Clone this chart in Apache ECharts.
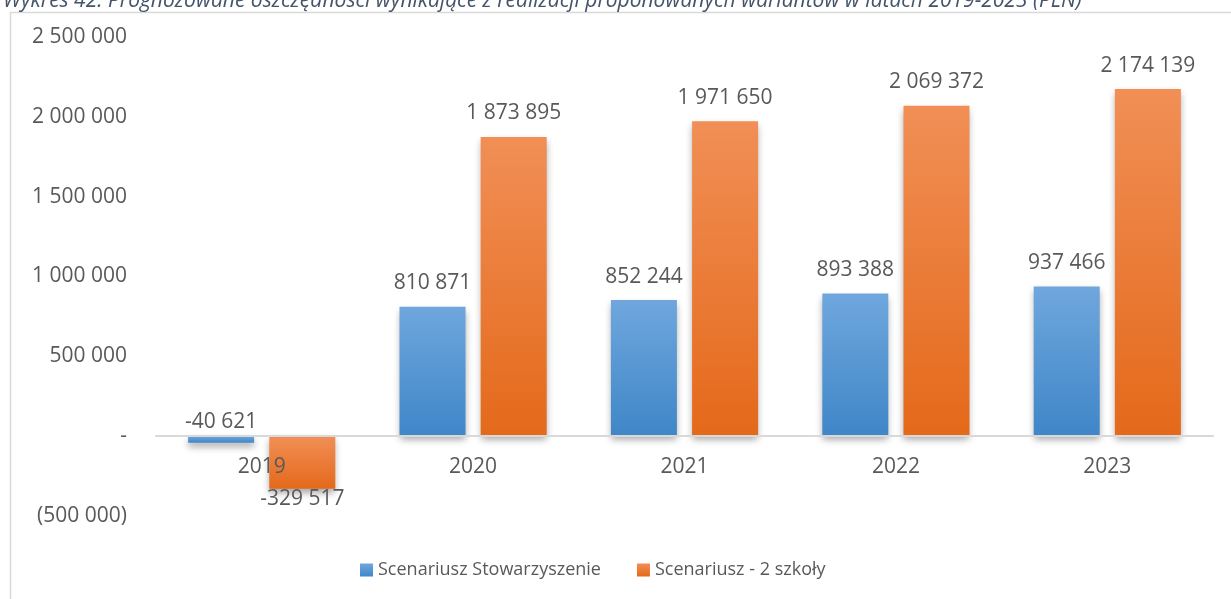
<!DOCTYPE html>
<html>
<head>
<meta charset="utf-8">
<style>
  html, body { margin: 0; padding: 0; background: #ffffff; }
  #chart { width: 1231px; height: 599px; }
</style>
<script src="https://cdn.jsdelivr.net/npm/echarts@6/dist/echarts.min.js"></script>
</head>
<body>
<div id="chart"></div>
<script>
// Forecast savings per year (PLN)
const years = ['2019', '2020', '2021', '2022', '2023'];
const seriesNames = ['Scenariusz Stowarzyszenie', 'Scenariusz - 2 szkoły'];
const stowarzyszenie = [-40621, 810871, 852244, 893388, 937466];
const dwieSzkoly = [-329517, 1873895, 1971650, 2069372, 2174139];
const yTicks = { min: -500000, max: 2500000, step: 500000 };
const titleText = 'Wykres 42. Prognozowane oszczędności wynikające z realizacji proponowanych wariantów w latach 2019-2023 (PLN)';

const FONT = 'Open Sans';
const TEXT = '#595959';

function groupDigits(n) {
  return String(Math.abs(n)).replace(/\B(?=(\d{3})+(?!\d))/g, ' ');
}
function axisLabel(v) {
  if (v === 0) return '-';
  return v < 0 ? '(' + groupDigits(v) + ')' : groupDigits(v);
}
function valueLabel(v) {
  return (v < 0 ? '-' : '') + groupDigits(v);
}

function gradient(top, bottom) {
  return new echarts.graphic.LinearGradient(0, 0, 0, 1, [
    { offset: 0, color: top },
    { offset: 1, color: bottom }
  ]);
}

// Negative bars keep their label beside the outer end
function buildData(values, negAbove) {
  return values.map(function (v) {
    if (v >= 0) return v;
    return {
      value: v,
      label: negAbove
        ? { position: 'top', distance: 4 }
        : { position: 'bottom', distance: 0 }
    };
  });
}

const barShadow = {
  shadowColor: 'rgba(0,0,0,0.35)',
  shadowBlur: 7,
  shadowOffsetX: 0,
  shadowOffsetY: 4
};

// Plot area geometry: value range -500k..2.5M over 6 steps, zero sits one step above the bottom
const GRID_TOP = 37, GRID_BOTTOM = 83, CHART_H = 599;
const plotH = CHART_H - GRID_TOP - GRID_BOTTOM;
const zeroShift = plotH * (0 - yTicks.min) / (yTicks.max - yTicks.min);

const chart = echarts.init(document.getElementById('chart'), null, { renderer: 'canvas' });

chart.setOption({
  animation: false,
  textStyle: { fontFamily: FONT },
  title: {
    text: titleText,
    left: -2,
    top: -14,
    textStyle: {
      fontFamily: FONT,
      fontStyle: 'italic',
      fontWeight: 'normal',
      fontSize: 21,
      color: '#44546a'
    }
  },
  graphic: [{
    type: 'rect',
    left: 8,
    top: 10,
    shape: { width: 1260, height: 620 },
    style: { fill: 'none', stroke: '#d9d9d9', lineWidth: 1.5 },
    silent: true,
    z: -1
  }],
  legend: {
    data: seriesNames,
    bottom: 15,
    left: 355,
    icon: 'rect',
    itemWidth: 13,
    itemHeight: 13,
    itemGap: 36,
    itemStyle: { shadowBlur: 0, shadowOffsetY: 0, shadowColor: 'transparent' },
    textStyle: { color: TEXT, fontSize: 18, fontFamily: FONT }
  },
  grid: { left: 156, right: 18, top: GRID_TOP, bottom: GRID_BOTTOM },
  xAxis: {
    type: 'category',
    data: years,
    offset: -zeroShift,
    z: 5,
    axisLine: { onZero: false, lineStyle: { color: '#d9d9d9', width: 2 } },
    axisTick: { show: false },
    axisLabel: { color: TEXT, fontSize: 21, margin: 20, fontFamily: FONT }
  },
  yAxis: {
    type: 'value',
    min: yTicks.min,
    max: yTicks.max,
    interval: yTicks.step,
    axisLine: { show: false },
    axisTick: { show: false },
    splitLine: { show: false },
    axisLabel: { color: TEXT, fontSize: 21, margin: 29, fontFamily: FONT, formatter: axisLabel }
  },
  series: [
    {
      name: seriesNames[0],
      type: 'bar',
      data: buildData(stowarzyszenie, true),
      barWidth: 66,
      barGap: '23%',
      itemStyle: Object.assign({ color: gradient('#6fa7dd', '#3f86c8') }, barShadow),
      label: {
        show: true, position: 'top', distance: 13,
        color: TEXT, fontSize: 21, fontFamily: FONT,
        formatter: function (p) { return valueLabel(p.value); }
      }
    },
    {
      name: seriesNames[1],
      type: 'bar',
      data: buildData(dwieSzkoly, false),
      barWidth: 66,
      itemStyle: Object.assign({ color: gradient('#f18f56', '#e4691a') }, barShadow),
      label: {
        show: true, position: 'top', distance: 13,
        color: TEXT, fontSize: 21, fontFamily: FONT,
        formatter: function (p) { return valueLabel(p.value); }
      }
    }
  ]
});
</script>
</body>
</html>
